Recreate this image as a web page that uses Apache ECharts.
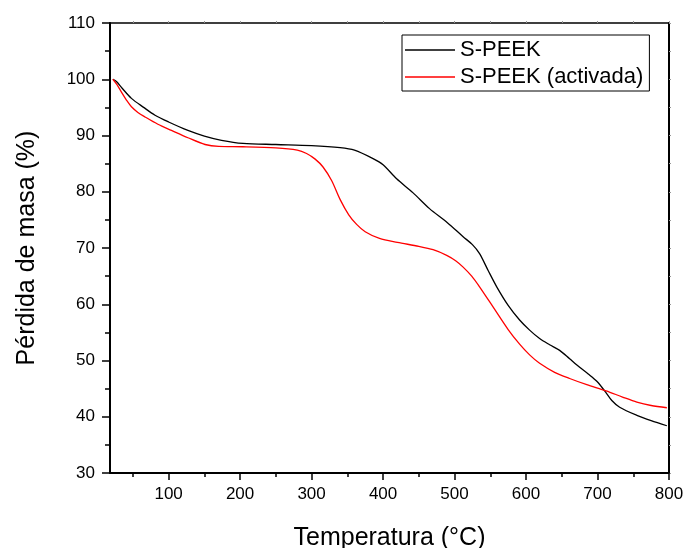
<!DOCTYPE html>
<html>
<head>
<meta charset="utf-8">
<script src="https://cdn.jsdelivr.net/npm/echarts@6.0.0/dist/echarts.min.js"></script>
<style>
  html, body { margin: 0; padding: 0; background: #fff; }
  #chart { width: 683px; height: 548px; }
</style>
</head>
<body>
<div id="chart"></div>
<script>
// temperatura (°C) / pérdida de masa (%)
var speek = [
  [22, 100.0], [27, 99.6], [35, 98.4], [48, 96.6], [65, 95.0], [81, 93.6],
  [100, 92.4], [127, 90.9], [150, 89.9], [174, 89.15], [204, 88.6], [250, 88.4],
  [300, 88.2], [340, 87.85], [360, 87.4], [386, 85.9], [400, 84.8], [419, 82.3],
  [442, 79.8], [465, 77.0], [490, 74.5], [512, 72.0], [525, 70.6], [535, 69.0],
  [547, 66.0], [559, 63.1], [575, 59.8], [591, 57.2], [605, 55.4], [619, 53.9],
  [633, 52.8], [647, 51.8], [661, 50.3], [675, 48.8], [687, 47.6], [699, 46.3],
  [710, 44.6], [720, 42.9], [731, 41.7], [755, 40.25], [775, 39.3], [797, 38.4]
]
var speekActivada = [
  [22, 100.0], [28, 99.0], [34, 97.7], [41, 96.3], [48, 95.1], [57, 94.1],
  [67, 93.3], [85, 92.0], [104, 90.9], [127, 89.6], [151, 88.4], [170, 88.05],
  [204, 88.0], [250, 87.8], [280, 87.4], [293, 86.8], [305, 85.8], [316, 84.4],
  [328, 82.0], [340, 78.6], [352, 75.9], [363, 74.2], [375, 72.9], [395, 71.7],
  [420, 71.0], [450, 70.3], [470, 69.7], [489, 68.7], [502, 67.7], [512, 66.6],
  [524, 65.0], [535, 63.1], [555, 59.3], [575, 55.5], [591, 52.9], [605, 51.0],
  [619, 49.5], [640, 47.9], [661, 46.8], [685, 45.7], [712, 44.6], [735, 43.5],
  [755, 42.6], [775, 42.0], [797, 41.6]
]
var xMajor = [100, 200, 300, 400, 500, 600, 700, 800]
var xMinor = [50, 150, 250, 350, 450, 550, 650, 750]
var xAll = [50, 100, 150, 200, 250, 300, 350, 400, 450, 500, 550, 600, 650, 700, 750, 800]

var font = 'Liberation Sans, Arial, sans-serif'
var chart = echarts.init(document.getElementById('chart'))

chart.setOption({
  backgroundColor: '#fff',
  animation: false,
  grid: {
    left: 110,
    right: 14,
    top: 23,
    bottom: 75,
    outerBoundsMode: 'none'
  },
  legend: {
    orient: 'vertical',
    left: 402,
    top: 35,
    padding: [4, 6, 3, 3],
    itemGap: 5,
    itemWidth: 50,
    itemHeight: 1.5,
    icon: 'rect',
    borderColor: '#000',
    borderWidth: 1,
    textStyle: {
      fontFamily: font,
      fontSize: 22,
      color: '#000'
    },
    data: ['S-PEEK', 'S-PEEK (activada)']
  },
  xAxis: [{
    type: 'value',
    min: 18,
    max: 800,
    position: 'bottom',
    name: 'Temperatura (\u00B0C)',
    nameLocation: 'middle',
    nameGap: 53,
    nameTextStyle: {
      fontFamily: font,
      fontSize: 25,
      color: '#000'
    },
    axisLine: {
      lineStyle: { color: '#000', width: 2 }
    },
    axisTick: {
      customValues: xMajor,
      length: 7,
      lineStyle: { color: '#000', width: 1.5 }
    },
    axisLabel: {
      customValues: xMajor,
      margin: 13,
      fontFamily: font,
      fontSize: 17,
      color: '#000'
    },
    splitLine: { show: false }
  }, {
    type: 'value',
    min: 18,
    max: 800,
    position: 'bottom',
    axisLine: { show: false },
    axisTick: {
      customValues: xMinor,
      length: 4,
      lineStyle: { color: '#000', width: 1.5 }
    },
    axisLabel: { show: false },
    splitLine: { show: false }
  }, {
    type: 'value',
    min: 18,
    max: 800,
    position: 'top',
    axisLine: {
      lineStyle: { color: '#000', width: 1.5 }
    },
    axisTick: {
      customValues: xAll,
      length: 2,
      lineStyle: { color: '#999', width: 1 }
    },
    axisLabel: { show: false },
    splitLine: { show: false }
  }],
  yAxis: [{
    type: 'value',
    min: 30,
    max: 110,
    interval: 10,
    position: 'left',
    name: 'P\u00E9rdida de masa (%)',
    nameLocation: 'middle',
    nameGap: 70,
    nameTextStyle: {
      fontFamily: font,
      fontSize: 25,
      color: '#000'
    },
    axisLine: {
      show: true,
      lineStyle: { color: '#000', width: 2 }
    },
    axisTick: {
      show: true,
      length: 8,
      lineStyle: { color: '#000', width: 1.5 }
    },
    minorTick: {
      show: true,
      splitNumber: 2,
      length: 5,
      lineStyle: { color: '#000', width: 1.5 }
    },
    axisLabel: {
      margin: 15,
      fontFamily: font,
      fontSize: 17,
      color: '#000'
    },
    splitLine: { show: false }
  }, {
    type: 'value',
    min: 30,
    max: 110,
    interval: 5,
    position: 'right',
    axisLine: {
      show: true,
      lineStyle: { color: '#000', width: 2 }
    },
    axisTick: {
      show: true,
      length: 2,
      lineStyle: { color: '#999', width: 1 }
    },
    axisLabel: { show: false },
    splitLine: { show: false }
  }],
  series: [{
    name: 'S-PEEK',
    type: 'line',
    xAxisIndex: 0,
    yAxisIndex: 0,
    data: speek,
    smooth: 0.3,
    showSymbol: false,
    color: '#000',
    lineStyle: { color: '#000', width: 1.3 }
  }, {
    name: 'S-PEEK (activada)',
    type: 'line',
    xAxisIndex: 0,
    yAxisIndex: 0,
    data: speekActivada,
    smooth: 0.3,
    showSymbol: false,
    color: '#ff0000',
    lineStyle: { color: '#ff0000', width: 1.3 }
  }]
})
</script>
</body>
</html>
